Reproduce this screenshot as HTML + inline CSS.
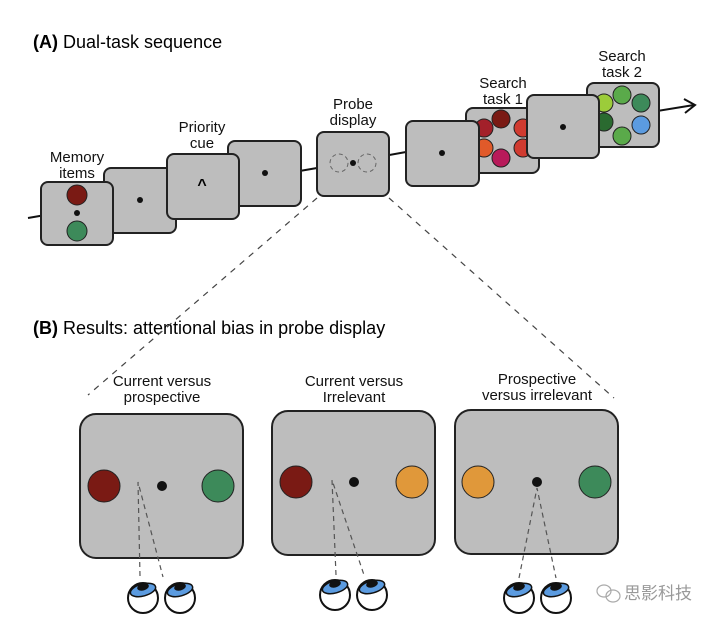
<!DOCTYPE html>
<html><head><meta charset="utf-8"><style>
body{margin:0;background:#fff;}
svg{display:block;font-family:"Liberation Sans",Arial,sans-serif;}
</style></head><body>
<svg width="720" height="625" viewBox="0 0 720 625" xmlns="http://www.w3.org/2000/svg">
<defs>
<g id="eye">
<circle cx="0" cy="0" r="15" fill="#fff" stroke="#111" stroke-width="2"/>
<ellipse cx="0" cy="-8" rx="13" ry="6" fill="#5b9be0" stroke="#111" stroke-width="1.5" transform="rotate(-15 0 -8)"/>
<ellipse cx="0" cy="-11" rx="6" ry="3.5" fill="#111" transform="rotate(-15 0 -11)"/>
</g>
</defs>
<text x="33" y="48" font-size="18"><tspan font-weight="bold">(A)</tspan> Dual-task sequence</text>
<text x="33" y="334" font-size="18"><tspan font-weight="bold">(B)</tspan> Results: attentional bias in probe display</text>

<polyline points="28,218 317,168 406,152 694,105" fill="none" stroke="#111" stroke-width="2"/>
<polyline points="684,99 695,105 685,113" fill="none" stroke="#111" stroke-width="2"/>

<line x1="317" y1="198" x2="88" y2="395" stroke="#444" stroke-width="1.2" stroke-dasharray="6,6"/>
<line x1="389" y1="198" x2="614" y2="398" stroke="#444" stroke-width="1.2" stroke-dasharray="6,6"/>

<g fill="#bdbdbd" stroke="#222" stroke-width="2">
<rect x="228" y="141" width="73" height="65" rx="7"/>
<rect x="104" y="168" width="72" height="65" rx="7"/>
<rect x="167" y="154" width="72" height="65" rx="7"/>
<rect x="41" y="182" width="72" height="63" rx="7"/>
<rect x="317" y="132" width="72" height="64" rx="7"/>
<rect x="466" y="108" width="73" height="65" rx="7"/>
</g>
<g stroke="#222" stroke-width="1">
<circle cx="484" cy="128" r="9" fill="#a3202a"/>
<circle cx="501" cy="119" r="9" fill="#7a1a14"/>
<circle cx="523" cy="128" r="9" fill="#d03b30"/>
<circle cx="484" cy="148" r="9" fill="#e05a2a"/>
<circle cx="501" cy="158" r="9" fill="#b81a5a"/>
<circle cx="523" cy="148" r="9" fill="#d03b30"/>
</g>
<rect x="406" y="121" width="73" height="65" rx="7" fill="#bdbdbd" stroke="#222" stroke-width="2"/>
<rect x="587" y="83" width="72" height="64" rx="7" fill="#bdbdbd" stroke="#222" stroke-width="2"/>
<g stroke="#222" stroke-width="1">
<circle cx="604" cy="103" r="9" fill="#9ccc3a"/>
<circle cx="622" cy="95" r="9" fill="#5aaa4a"/>
<circle cx="641" cy="103" r="9" fill="#3d8a5a"/>
<circle cx="604" cy="122" r="9" fill="#2a6a30"/>
<circle cx="622" cy="136" r="9" fill="#5aaa4a"/>
<circle cx="641" cy="125" r="9" fill="#5b9be0"/>
</g>
<rect x="527" y="95" width="72" height="63" rx="7" fill="#bdbdbd" stroke="#222" stroke-width="2"/>

<circle cx="77" cy="195" r="10" fill="#7a1a14" stroke="#222"/>
<circle cx="77" cy="213" r="3" fill="#111"/>
<circle cx="77" cy="231" r="10" fill="#3d8a5a" stroke="#222"/>
<circle cx="140" cy="200" r="3" fill="#111"/>
<text x="202" y="190" font-size="16" font-weight="bold" text-anchor="middle">^</text>
<circle cx="265" cy="173" r="3" fill="#111"/>
<circle cx="353" cy="163" r="3" fill="#111"/>
<circle cx="339" cy="163" r="9" fill="none" stroke="#666" stroke-width="1" stroke-dasharray="4,3"/>
<circle cx="367" cy="163" r="9" fill="none" stroke="#666" stroke-width="1" stroke-dasharray="4,3"/>
<circle cx="442" cy="153" r="3" fill="#111"/>
<circle cx="563" cy="127" r="3" fill="#111"/>

<g font-size="15" text-anchor="middle" fill="#111">
<text x="77" y="162">Memory</text><text x="77" y="178">items</text>
<text x="202" y="132">Priority</text><text x="202" y="148">cue</text>
<text x="353" y="109">Probe</text><text x="353" y="125">display</text>
<text x="503" y="88">Search</text><text x="503" y="104">task 1</text>
<text x="622" y="61">Search</text><text x="622" y="77">task 2</text>
<text x="162" y="386">Current versus</text><text x="162" y="402">prospective</text>
<text x="354" y="386">Current versus</text><text x="354" y="402">Irrelevant</text>
<text x="537" y="384">Prospective</text><text x="537" y="400">versus irrelevant</text>
</g>

<g fill="#bdbdbd" stroke="#222" stroke-width="2">
<rect x="80" y="414" width="163" height="144" rx="16"/>
<rect x="272" y="411" width="163" height="144" rx="16"/>
<rect x="455" y="410" width="163" height="144" rx="16"/>
</g>
<g stroke="#222" stroke-width="1">
<circle cx="104" cy="486" r="16" fill="#7a1a14"/>
<circle cx="218" cy="486" r="16" fill="#3d8a5a"/>
<circle cx="296" cy="482" r="16" fill="#7a1a14"/>
<circle cx="412" cy="482" r="16" fill="#e0983a"/>
<circle cx="478" cy="482" r="16" fill="#e0983a"/>
<circle cx="595" cy="482" r="16" fill="#3d8a5a"/>
</g>
<circle cx="162" cy="486" r="5" fill="#111"/>
<circle cx="354" cy="482" r="5" fill="#111"/>
<circle cx="537" cy="482" r="5" fill="#111"/>
<g stroke="#555" stroke-width="1.2" stroke-dasharray="5,4" fill="none">
<polyline points="140,576 138,482 163,577"/>
<polyline points="336,575 332,480 364,575"/>
<polyline points="519,578 537,488 556,578"/>
</g>
<use href="#eye" x="143" y="598"/><use href="#eye" x="180" y="598"/>
<use href="#eye" x="335" y="595"/><use href="#eye" x="372" y="595"/>
<use href="#eye" x="519" y="598"/><use href="#eye" x="556" y="598"/>

<g fill="none" stroke="#aaa" stroke-width="1.2">
<ellipse cx="604" cy="591" rx="7" ry="6"/><ellipse cx="613" cy="596" rx="7" ry="6"/>
</g>
<text x="624" y="599" font-size="17" fill="#999" font-family="'Noto Sans CJK SC',sans-serif">思影科技</text>
</svg>
</body></html>
